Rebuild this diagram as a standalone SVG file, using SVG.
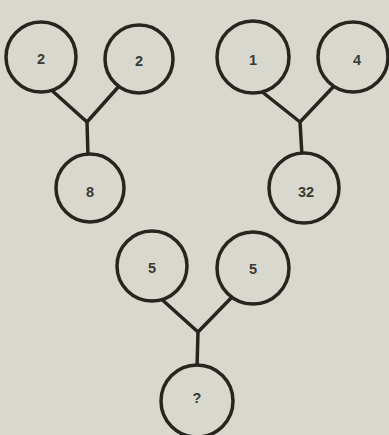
<svg xmlns="http://www.w3.org/2000/svg" width="389" height="435" viewBox="0 0 389 435">
<style>
.n{fill:#d8d8cf;stroke:#26261f;stroke-width:3.5}
.c{fill:none;stroke:#26261f;stroke-width:3.5;stroke-linecap:round;stroke-linejoin:round}
.t{font-family:"Liberation Sans",Arial,sans-serif;font-weight:bold;font-size:14.5px;fill:#3a3a34;text-anchor:middle;dominant-baseline:central}
</style>
<rect width="389" height="435" fill="#d8d8cf"/>
<g id="connectors">
<path class="c" d="M48,87 L87,122 L120,85 M87,122 L88,156"/>
<path class="c" d="M256,87 L300,122 L335,85 M300,122 L302,156"/>
<path class="c" d="M158,296 L198,332 L234,295 M198,332 L197,368"/>
</g>
<g id="n1"><circle class="n" cx="41" cy="57" r="35"/><text class="t" x="41" y="59">2</text></g>
<g id="n2"><circle class="n" cx="139" cy="59" r="34"/><text class="t" x="139" y="61">2</text></g>
<g id="n3"><circle class="n" cx="90" cy="188" r="34"/><text class="t" x="90" y="192">8</text></g>
<g id="n4"><circle class="n" cx="253" cy="57" r="36"/><text class="t" x="253" y="60">1</text></g>
<g id="n5"><circle class="n" cx="353" cy="57" r="35"/><text class="t" x="357" y="60">4</text></g>
<g id="n6"><circle class="n" cx="304" cy="188" r="35"/><text class="t" x="306" y="192">32</text></g>
<g id="n7"><circle class="n" cx="152" cy="266" r="35"/><text class="t" x="152" y="268">5</text></g>
<g id="n8"><circle class="n" cx="253" cy="268" r="36"/><text class="t" x="253" y="269">5</text></g>
<g id="n9"><circle class="n" cx="197" cy="401" r="36"/><text class="t" x="197" y="398">?</text></g>
</svg>
